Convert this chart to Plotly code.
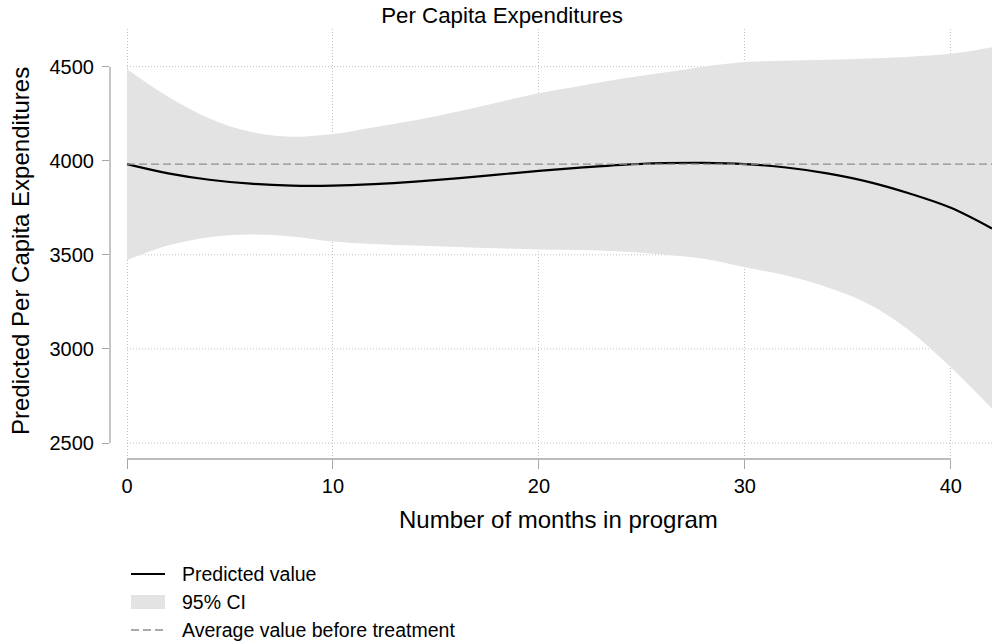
import plotly.graph_objects as go

# Months in program and the fitted prediction
months = [0, 2, 4, 6, 8, 10, 12, 14, 16, 18, 20, 22, 24, 26, 28, 30, 32, 34, 36, 38, 40, 42]
predicted = [3982, 3933, 3899, 3878, 3868, 3868, 3876, 3889, 3906, 3926, 3946, 3963,
             3978, 3987, 3989, 3982, 3964, 3933, 3888, 3826, 3750, 3640]

# 95% confidence band
ci_upper = [4486, 4340, 4225, 4154, 4128, 4142, 4178, 4215, 4260, 4310, 4358, 4397,
            4435, 4468, 4500, 4525, 4531, 4536, 4543, 4553, 4568, 4603]
ci_lower = [3473, 3549, 3594, 3608, 3598, 3571, 3558, 3549, 3542, 3535, 3528, 3525,
            3518, 3502, 3479, 3434, 3390, 3328, 3239, 3097, 2902, 2682]

# Mean before treatment
baseline_x = [0, 42]
baseline_value = 3982

x_ticks = [0, 10, 20, 30, 40]
y_ticks = [2500, 3000, 3500, 4000, 4500]

legend_labels = ["Predicted value", "95% CI", "Average value before treatment"]

FONT = "Liberation Sans, Arial, sans-serif"
AXIS_GRAY = "#a6a6a6"
GRID_GRAY = "#c4c4c4"
GRID_DASH = "1px,2px"
CI_FILL = "#e3e3e3"
BASE_COLOR = "#8e8e8e"
BASE_DASH = "8px,4px"

W, H = 998, 644
ML, MR, MT, MB = 110, 6, 29, 185
plot_w = W - ML - MR
plot_h = H - MT - MB
X0_PX = 127  # pixel where month 0 sits; the y axis stands a little to its left
x_lo = -(X0_PX - ML) / ((W - MR - X0_PX) / 42)


def px_x(px):
    return (px - ML) / plot_w


def px_y(py):
    return (H - MB - py) / plot_h


fig = go.Figure()

fig.add_trace(go.Scatter(
    x=months, y=ci_lower, mode="lines", line=dict(width=0, shape="spline"),
    showlegend=False, hoverinfo="skip",
))
fig.add_trace(go.Scatter(
    x=months, y=ci_upper, mode="lines", line=dict(width=0, shape="spline"),
    fill="tonexty", fillcolor=CI_FILL, name=legend_labels[1], showlegend=False,
))
fig.add_trace(go.Scatter(
    x=months, y=predicted, mode="lines", line=dict(color="black", width=2.2, shape="spline"),
    name=legend_labels[0], showlegend=False,
))
fig.add_trace(go.Scatter(
    x=baseline_x, y=[baseline_value] * len(baseline_x), mode="lines",
    line=dict(color=BASE_COLOR, width=1.3, dash=BASE_DASH),
    name=legend_labels[2], showlegend=False,
))

fig.update_layout(
    width=W, height=H,
    margin=dict(l=ML, r=MR, t=MT, b=MB, pad=0, autoexpand=False),
    paper_bgcolor="white", plot_bgcolor="white",
    font=dict(family=FONT, size=20, color="black"),
    title=dict(text="Per Capita Expenditures", x=502 / W, xref="container",
               y=1 - 15 / H, yref="container", yanchor="middle", xanchor="center",
               font=dict(size=22.3, color="black")),
    xaxis=dict(
        range=[x_lo, 42], tickvals=x_ticks,
        showgrid=True, gridcolor=GRID_GRAY, griddash=GRID_DASH, gridwidth=1,
        zeroline=False, showline=False, automargin=False,
        ticks="outside", ticklen=9, tickwidth=1.3, tickcolor=AXIS_GRAY,
        ticklabelstandoff=0, tickfont=dict(size=20),
    ),
    yaxis=dict(
        range=[2415, 4700], tickvals=y_ticks,
        showgrid=False, zeroline=False, showline=False, automargin=False,
        ticks="outside", ticklen=7, tickwidth=1.3, tickcolor=AXIS_GRAY,
        ticklabelstandoff=4, tickfont=dict(size=20),
    ),
    showlegend=False,
)

# Horizontal grid runs only over the data span
for yv in y_ticks:
    fig.add_shape(type="line", xref="x", yref="y", x0=0, x1=42, y0=yv, y1=yv,
                  line=dict(color=GRID_GRAY, width=1, dash=GRID_DASH), layer="below")

# Axis lines span only the labelled tick range
fig.add_shape(type="line", xref="paper", yref="y", x0=0, x1=0, y0=y_ticks[0], y1=y_ticks[-1],
              line=dict(color=AXIS_GRAY, width=1.3), layer="above")
fig.add_shape(type="line", xref="x", yref="paper", x0=x_ticks[0], x1=x_ticks[-1], y0=0, y1=0,
              line=dict(color=AXIS_GRAY, width=1.3), layer="above")

# Axis titles, centred on the data span
fig.add_annotation(
    text="Number of months in program",
    xref="paper", yref="paper", x=px_x(558), y=px_y(519),
    xanchor="center", yanchor="middle", showarrow=False, font=dict(size=24),
)
fig.add_annotation(
    text="Predicted Per Capita Expenditures", textangle=-90,
    xref="paper", yref="paper", x=px_x(20), y=px_y(251),
    xanchor="center", yanchor="middle", showarrow=False, font=dict(size=24),
)

# Legend below the plot
key_x0, key_x1, text_x = 131, 165, 180
rows = [574, 602, 630]
fig.add_shape(type="line", xref="paper", yref="paper",
              x0=px_x(key_x0), x1=px_x(key_x1), y0=px_y(rows[0]), y1=px_y(rows[0]),
              line=dict(color="black", width=2.2))
fig.add_shape(type="rect", xref="paper", yref="paper",
              x0=px_x(key_x0), x1=px_x(key_x1), y0=px_y(rows[1] - 7), y1=px_y(rows[1] + 7),
              line=dict(width=0), fillcolor=CI_FILL)
fig.add_shape(type="line", xref="paper", yref="paper",
              x0=px_x(key_x0), x1=px_x(key_x1), y0=px_y(rows[2]), y1=px_y(rows[2]),
              line=dict(color=BASE_COLOR, width=1.3, dash=BASE_DASH))
for label, row in zip(legend_labels, rows):
    fig.add_annotation(text=label, xref="paper", yref="paper", x=px_x(text_x), y=px_y(row),
                       xanchor="left", yanchor="middle", showarrow=False,
                       font=dict(size=19.5), align="left")

fig.write_html("out.html")
